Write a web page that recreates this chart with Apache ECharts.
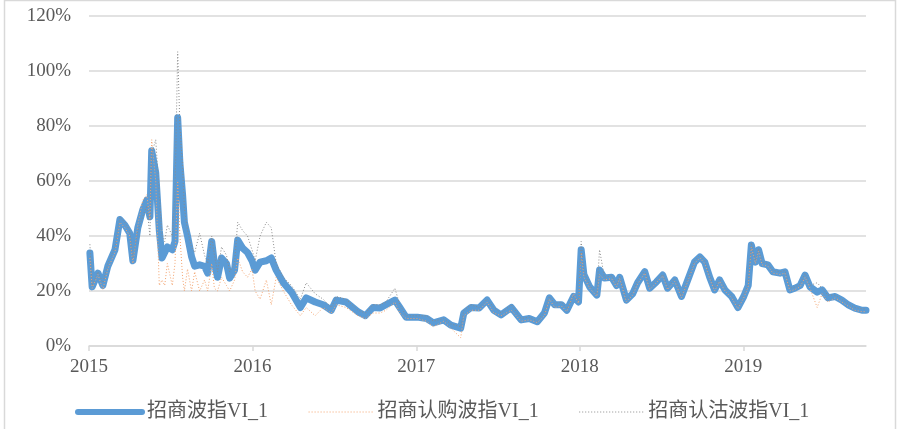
<!DOCTYPE html>
<html>
<head>
<meta charset="utf-8">
<script src="https://cdn.jsdelivr.net/npm/echarts@6/dist/echarts.min.js"></script>
<style>
  html, body { margin: 0; padding: 0; background: #fff; }
  #chart { width: 897px; height: 429px; }
</style>
</head>
<body>
<div id="chart"></div>
<script>
  // 日期
  const dates = [
    '2015-01-03','2015-01-08','2015-01-21','2015-02-01','2015-02-12','2015-02-28','2015-03-11','2015-03-22','2015-04-02','2015-04-09',
    '2015-04-20','2015-05-01','2015-05-10','2015-05-17','2015-05-21','2015-05-30',
    '2015-06-07','2015-06-13','2015-06-19','2015-06-25','2015-07-06','2015-07-12','2015-07-18','2015-07-23','2015-07-29','2015-08-02',
    '2015-08-09','2015-08-18','2015-08-25','2015-09-05','2015-09-16','2015-09-23','2015-10-02','2015-10-08','2015-10-15','2015-10-24',
    '2015-11-04','2015-11-11','2015-11-22','2015-11-29','2015-12-10','2015-12-21','2015-12-31',
    '2016-01-07','2016-01-18','2016-02-01','2016-02-12','2016-02-23','2016-03-10','2016-03-28',
    '2016-04-17','2016-04-30','2016-05-20','2016-06-07','2016-06-25','2016-07-06','2016-07-28','2016-08-24','2016-09-09','2016-09-26',
    '2016-10-12','2016-10-25','2016-11-14','2016-11-25','2016-12-09',
    '2017-01-03','2017-01-24','2017-02-08','2017-03-03','2017-03-19','2017-04-10','2017-04-17','2017-05-03','2017-05-21','2017-06-08',
    '2017-06-23','2017-07-09','2017-08-01','2017-08-23','2017-09-10','2017-09-28','2017-10-14','2017-10-25','2017-11-06','2017-11-21',
    '2017-12-03','2017-12-18','2017-12-29',
    '2018-01-04','2018-01-10','2018-01-23','2018-02-08','2018-02-14','2018-02-25','2018-03-13','2018-03-24','2018-03-31','2018-04-15',
    '2018-04-29','2018-05-10','2018-05-26','2018-06-06','2018-06-21','2018-07-05','2018-07-16','2018-08-01','2018-08-16','2018-08-30',
    '2018-09-14','2018-09-26','2018-10-07','2018-10-18','2018-10-29','2018-11-09','2018-11-21','2018-12-06','2018-12-20',
    '2019-01-02','2019-01-12','2019-01-19','2019-01-28','2019-02-04','2019-02-12','2019-02-25','2019-03-08','2019-03-24','2019-04-04',
    '2019-04-15','2019-04-26','2019-05-08','2019-05-19','2019-05-30','2019-06-15','2019-06-26','2019-07-09','2019-07-25','2019-08-09',
    '2019-08-23','2019-09-07','2019-09-23','2019-10-02'
  ];

  // 招商波指VI_1 (%)
  const viMain = [
    33.8,21.5,26.5,22,29,35,46,44,41,31,43,49.5,53,47,71,63,
    42,32,34,36,35,38,83,66.5,55,45,40,32.5,29,29.5,29,26.5,38,30,25,32,30,24.7,27.6,38.5,35.6,34,31,
    27.6,30.5,31,32,27.6,23,19.6,
    14,17.5,16,15,13,16.7,16,12.4,11,14,13.8,15,16.7,14,10.5,
    10.5,10,8.4,9.5,7.6,6.5,12,14,13.8,16.7,13,11.3,14,9.5,10,8.8,12,17.5,15,15,13,18,16,
    35,26,21.5,18.5,27.6,24.7,25,22,25,16.7,19,23,27,21,23.3,25.8,21,24,18,24,
    30.5,32.4,30.5,25,20.4,24,20.4,18,14,
    18,22,36.7,30.5,35,30,29.5,27,26.5,27,20.4,21,22,25.8,21.5,19.6,20.4,17.5,18,16.7,15,13.8,13,13
  ];

  // 招商认购波指VI_1 (%)
  const viCall = [
    32,21,26,20.5,28,34,45,43,40,30,44,53,55,46,75,60,
    22,24,22,30,22,30,60,40,25,20,28,20,27,20,24,20,30,21,20,25,22,20,24,32,27,25,28,
    20,17,24,15,25,20,15,
    11,14,11,14,12,15,14,11,10,12,12,13,16,12,10,
    10,9,7,9,6.5,3,11,13,13,16,12,11,13,9,9.5,8.5,11,17,14,14.5,12.5,19,15.5,
    34,25,21,18,26,24,24.5,21.5,24.5,16,18.5,22.5,26.5,20.5,23,25.5,20.5,23.5,17.5,23.5,
    30,32,30,24.5,20,23.5,20,17.5,13.5,
    17.5,21.5,36,30,34.5,29.5,29,26.5,26,26.5,20,20.5,21.5,25,21,14,19,16,17.5,16,14.5,13,12.5,12.5
  ];

  // 招商认沽波指VI_1 (%)
  const viPut = [
    37,22,27,23,30,36,47,45,42,32,42,47,51,40,70,75,
    55,40,38,44,40,55,107,80,65,50,42,36,34,41,33,30,40,33,27,36,33,27,30,45,42,40,35,
    31,40,45,43,30,25,22,
    17,23,19,17,14,18,17,13,12,15,15,16,21,15,11,
    11,11,9,10,8,7,13,15,14,17,14,12,15,10,10.5,9,12.5,18,15.5,16,13.5,18,16.5,
    38,27,22,19,35,25,25.5,22.5,25.5,17,19.5,24,27.5,21.5,24,26,21.5,24.5,18.5,24.5,
    31,33,31,25.5,21,24.5,21,18.5,14.5,
    18.5,22.5,37.5,31,35.5,30.5,30,27.5,27,27.5,21,21.5,22.5,26.5,22,23,21,18.5,18.5,17,15.5,14,13.5,13.5
  ];

  const seriesNames = ['招商波指VI_1', '招商认购波指VI_1', '招商认沽波指VI_1'];

  const pair = (vals) => dates.map((d, i) => [d, vals[i]]);

  const fontFamily = '"Liberation Serif", "Noto Sans CJK SC", serif';
  const myChart = echarts.init(document.getElementById('chart'));

  const option = {
    animation: false,
    backgroundColor: '#fff',
    graphic: [
      {
        type: 'rect',
        left: 2,
        top: -2,
        shape: { width: 891, height: 433 },
        style: { fill: 'none', stroke: '#d9d9d9', lineWidth: 1.5 },
        silent: true
      }
    ],
    grid: {
      left: 89,
      right: 31,
      top: 16,
      bottom: 83
    },
    legend: {
      top: 397,
      left: 70,
      itemWidth: 64,
      itemHeight: 8,
      itemGap: 40,
      itemStyle: { opacity: 0 },
      data: [
        { name: seriesNames[0], lineStyle: { width: 6, color: '#5B9BD5' } },
        { name: seriesNames[1], lineStyle: { width: 1, color: '#F4A36E', type: [1, 2] } },
        { name: seriesNames[2], lineStyle: { width: 1, color: '#8C8C8C', type: [1, 2] } }
      ],
      textStyle: {
        fontFamily: fontFamily,
        fontSize: 20,
        color: '#595959'
      }
    },
    xAxis: {
      type: 'time',
      min: '2015-01-01',
      max: '2019-10-02',
      splitNumber: 5,
      minInterval: 365 * 24 * 3600 * 1000,
      axisLine: { lineStyle: { color: '#d9d9d9', width: 1.5 } },
      axisTick: { show: true, length: 5, lineStyle: { color: '#d9d9d9', width: 1.5 } },
      splitLine: { show: false },
      axisLabel: {
        formatter: '{yyyy}',
        showMaxLabel: false,
        margin: 12,
        fontFamily: fontFamily,
        fontSize: 19,
        color: '#595959'
      }
    },
    yAxis: {
      type: 'value',
      min: 0,
      max: 120,
      interval: 20,
      axisLine: { show: false },
      axisTick: { show: false },
      splitLine: { lineStyle: { color: '#d9d9d9', width: 1.5 } },
      axisLabel: {
        formatter: '{value}%',
        margin: 18,
        fontFamily: fontFamily,
        fontSize: 19,
        color: '#595959'
      }
    },
    series: [
      {
        name: seriesNames[0],
        type: 'line',
        symbol: 'none',
        color: '#5B9BD5',
        lineStyle: { width: 7, color: '#5B9BD5', join: 'round', cap: 'round' },
        data: pair(viMain)
      },
      {
        name: seriesNames[1],
        type: 'line',
        symbol: 'none',
        color: '#F4A36E',
        lineStyle: { width: 1, color: '#F4A36E', type: [1, 2] },
        data: pair(viCall)
      },
      {
        name: seriesNames[2],
        type: 'line',
        symbol: 'none',
        color: '#8C8C8C',
        lineStyle: { width: 1, color: '#8C8C8C', type: [1, 2] },
        data: pair(viPut)
      }
    ]
  };

  myChart.setOption(option);
</script>
</body>
</html>
